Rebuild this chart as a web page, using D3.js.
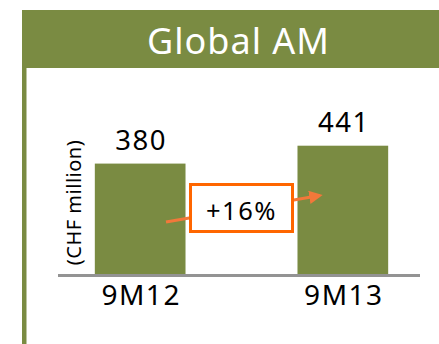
<!DOCTYPE html>
<html>
<head>
<meta charset="utf-8">
<script src="https://cdn.jsdelivr.net/npm/d3@7"></script>
<style>
  html, body { margin: 0; padding: 0; background: #fff; }
  svg { display: block; font-family: "Noto Sans", "Open Sans", sans-serif; }
</style>
</head>
<body>
<svg id="chart" width="439" height="344"></svg>
<script>
// Global AM figures, CHF million
const categories = ["9M12", "9M13"];
const values = [380, 441];
const title = "Global AM";
const unitLabel = "(CHF million)";
const growthLabel = "+16%";

const green = "#7A8B42";
const orange = "#FF6600";
const arrowColor = "#F2783A";

const svg = d3.select("#chart");

// panel frame: header band and left rule
svg.append("rect").attr("x", 22).attr("y", 10).attr("width", 417).attr("height", 58).attr("fill", green);
svg.append("rect").attr("x", 22).attr("y", 10).attr("width", 4.5).attr("height", 334).attr("fill", green);
svg.append("text")
  .attr("x", 238.5).attr("y", 53.5)
  .attr("text-anchor", "middle")
  .attr("fill", "#fff")
  .attr("font-size", 36)
  .attr("letter-spacing", 1)
  .text(title);

// scales
const baseY = 275;
const x = d3.scaleBand().domain(categories).range([63, 420]).paddingInner(0.5525).paddingOuter(0.157);
const y = d3.scaleLinear().domain([0, d3.max(values)]).range([baseY, 145.7]);

const data = categories.map((c, i) => ({ c, v: values[i] }));

svg.selectAll("rect.bar").data(data).join("rect")
  .attr("class", "bar")
  .attr("x", d => x(d.c))
  .attr("width", x.bandwidth())
  .attr("y", d => y(d.v))
  .attr("height", d => baseY - y(d.v))
  .attr("fill", green);

svg.selectAll("text.val").data(data).join("text")
  .attr("class", "val")
  .attr("x", d => x(d.c) + x.bandwidth() / 2 + 1)
  .attr("y", d => y(d.v) - 14)
  .attr("text-anchor", "middle")
  .attr("font-size", 27.5)
  .attr("letter-spacing", 1.5)
  .attr("fill", "#000")
  .text(d => d.v);

// baseline axis
const axis = d3.axisBottom(x).tickSize(0).tickPadding(10);
const gAxis = svg.append("g").attr("transform", `translate(0,${baseY})`).call(axis);
gAxis.select(".domain").attr("stroke", "#939393").attr("stroke-width", 3)
  .attr("d", "M58,0.5H420");
gAxis.selectAll("text")
  .attr("font-size", 28)
  .attr("letter-spacing", 1.5)
  .attr("fill", "#000")
  .attr("font-family", "\"Noto Sans\", \"Open Sans\", sans-serif")
  .attr("dx", 1)
  .attr("dy", 0)
  .attr("y", 29.5);

// unit label
svg.append("text")
  .attr("transform", "translate(81,202.5) rotate(-90)")
  .attr("text-anchor", "middle")
  .attr("font-size", 20)
  .attr("letter-spacing", 0.5)
  .attr("fill", "#000")
  .text(unitLabel);

// growth arrow between bars
const defs = svg.append("defs");
defs.append("marker")
  .attr("id", "head").attr("viewBox", "0 0 10 10")
  .attr("refX", 8).attr("refY", 5)
  .attr("markerWidth", 4.5).attr("markerHeight", 4.5)
  .attr("orient", "auto")
  .append("path").attr("d", "M0,0L10,5L0,10Z").attr("fill", arrowColor);

svg.append("line")
  .attr("x1", 166).attr("y1", 222).attr("x2", 320).attr("y2", 195.5)
  .attr("stroke", arrowColor).attr("stroke-width", 3)
  .attr("marker-end", "url(#head)");

svg.append("rect")
  .attr("x", 190.5).attr("y", 184.5).attr("width", 102).attr("height", 47)
  .attr("fill", "#fff").attr("stroke", orange).attr("stroke-width", 3);
svg.append("text")
  .attr("x", 241.5).attr("y", 220)
  .attr("text-anchor", "middle")
  .attr("font-size", 25.5)
  .attr("letter-spacing", 1.5)
  .attr("fill", "#000")
  .text(growthLabel);
</script>
</body>
</html>
